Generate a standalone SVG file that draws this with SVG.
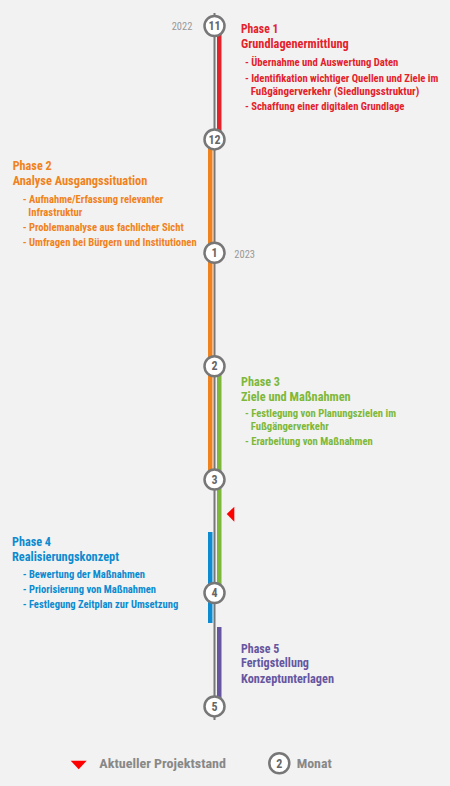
<svg xmlns="http://www.w3.org/2000/svg" width="450" height="786" viewBox="0 0 450 786">
<style>
text{font-family:"Roboto Condensed",Roboto,"Liberation Sans",sans-serif;font-stretch:condensed;font-weight:700}
.h{font-size:12.3px}
.b{font-size:10.3px}
.yr{font-size:10px;font-weight:400;fill:#999}
.num{font-size:12px;fill:#666;text-anchor:middle}
.node circle{fill:#fff;stroke:#777;stroke-width:2.5}
.p1{fill:#e3222c}.p2{fill:#f0821e}.p3{fill:#7db83a}.p4{fill:#0c8bd0}.p5{fill:#6656a0}
.leg{font-size:12.5px;fill:#888}
</style>
<rect width="450" height="786" fill="#f2f2f2"/>
<g id="connectors">
<rect x="213.5" y="13" width="2" height="707" fill="#777"/>
<rect class="p1" x="217" y="26" width="4.5" height="113.4"/>
<rect class="p2" x="208" y="139.4" width="4.5" height="340.2"/>
<rect class="p3" x="217" y="366.2" width="4.5" height="226.8"/>
<rect class="p4" x="208" y="532" width="4.5" height="91"/>
<rect class="p5" x="217" y="627" width="4.5" height="79.4"/>
</g>
<g id="m11" class="node"><circle cx="214.5" cy="26" r="10"/><text class="num" x="214.5" y="30.2">11</text></g>
<g id="m12" class="node"><circle cx="214.5" cy="139.4" r="10"/><text class="num" x="214.5" y="143.6">12</text></g>
<g id="m1" class="node"><circle cx="214.5" cy="252.8" r="10"/><text class="num" x="214.5" y="257">1</text></g>
<g id="m2" class="node"><circle cx="214.5" cy="366.2" r="10"/><text class="num" x="214.5" y="370.4">2</text></g>
<g id="m3" class="node"><circle cx="214.5" cy="479.6" r="10"/><text class="num" x="214.5" y="483.8">3</text></g>
<g id="m4" class="node"><circle cx="214.5" cy="593" r="10"/><text class="num" x="214.5" y="597.2">4</text></g>
<g id="m5" class="node"><circle cx="214.5" cy="706.4" r="10"/><text class="num" x="214.5" y="710.6">5</text></g>
<g id="years">
<text class="yr" x="171.7" y="29.5" textLength="20.6" lengthAdjust="spacingAndGlyphs">2022</text>
<text class="yr" x="234.3" y="257.5" textLength="20.7" lengthAdjust="spacingAndGlyphs">2023</text>
</g>
<g id="current"><polygon points="226.7,514 234.3,506.7 234.3,521.7" fill="#f00"/></g>
<g id="phase1" class="p1">
<text class="h" x="241" y="33.3" textLength="37.3" lengthAdjust="spacingAndGlyphs">Phase 1</text>
<text class="h" x="241" y="48.3" textLength="107.7" lengthAdjust="spacingAndGlyphs">Grundlagenermittlung</text>
<text class="b" x="245" y="66" textLength="153.3" lengthAdjust="spacingAndGlyphs">- Übernahme und Auswertung Daten</text>
<text class="b" x="245" y="81.5" textLength="193.3" lengthAdjust="spacingAndGlyphs">- Identifikation wichtiger Quellen und Ziele im</text>
<text class="b" x="250.7" y="95" textLength="168.6" lengthAdjust="spacingAndGlyphs">Fußgängerverkehr (Siedlungsstruktur)</text>
<text class="b" x="245" y="110" textLength="159.3" lengthAdjust="spacingAndGlyphs">- Schaffung einer digitalen Grundlage</text>
</g>
<g id="phase2" class="p2">
<text class="h" x="12.7" y="170" textLength="39" lengthAdjust="spacingAndGlyphs">Phase 2</text>
<text class="h" x="12.7" y="185" textLength="134.6" lengthAdjust="spacingAndGlyphs">Analyse Ausgangssituation</text>
<text class="b" x="22.7" y="203.3" textLength="140.6" lengthAdjust="spacingAndGlyphs">- Aufnahme/Erfassung relevanter</text>
<text class="b" x="28.3" y="215.5" textLength="54" lengthAdjust="spacingAndGlyphs">Infrastruktur</text>
<text class="b" x="22.7" y="231" textLength="161" lengthAdjust="spacingAndGlyphs">- Problemanalyse aus fachlicher Sicht</text>
<text class="b" x="22.7" y="246" textLength="174" lengthAdjust="spacingAndGlyphs">- Umfragen bei Bürgern und Institutionen</text>
</g>
<g id="phase3" class="p3">
<text class="h" x="241" y="386" textLength="39" lengthAdjust="spacingAndGlyphs">Phase 3</text>
<text class="h" x="241" y="401" textLength="109.7" lengthAdjust="spacingAndGlyphs">Ziele und Maßnahmen</text>
<text class="b" x="245" y="416.7" textLength="151" lengthAdjust="spacingAndGlyphs">- Festlegung von Planungszielen im</text>
<text class="b" x="250.7" y="429.5" textLength="78" lengthAdjust="spacingAndGlyphs">Fußgängerverkehr</text>
<text class="b" x="245" y="445" textLength="127.7" lengthAdjust="spacingAndGlyphs">- Erarbeitung von Maßnahmen</text>
</g>
<g id="phase4" class="p4">
<text class="h" x="12" y="546" textLength="39" lengthAdjust="spacingAndGlyphs">Phase 4</text>
<text class="h" x="12" y="560.7" textLength="107" lengthAdjust="spacingAndGlyphs">Realisierungskonzept</text>
<text class="b" x="22.7" y="577.7" textLength="122.3" lengthAdjust="spacingAndGlyphs">- Bewertung der Maßnahmen</text>
<text class="b" x="22.7" y="592.7" textLength="133.3" lengthAdjust="spacingAndGlyphs">- Priorisierung von Maßnahmen</text>
<text class="b" x="22.7" y="607.7" textLength="155.6" lengthAdjust="spacingAndGlyphs">- Festlegung Zeitplan zur Umsetzung</text>
</g>
<g id="phase5" class="p5">
<text class="h" x="241" y="653.3" textLength="38.3" lengthAdjust="spacingAndGlyphs">Phase 5</text>
<text class="h" x="241" y="667.3" textLength="68" lengthAdjust="spacingAndGlyphs">Fertigstellung</text>
<text class="h" x="241" y="682.7" textLength="93" lengthAdjust="spacingAndGlyphs">Konzeptunterlagen</text>
</g>
<g id="legend">
<polygon points="70.7,760.7 86.7,760.7 78.7,769.3" fill="#f00"/>
<text class="leg" x="99.3" y="767.5" textLength="126.7" lengthAdjust="spacingAndGlyphs">Aktueller Projektstand</text>
<g class="node"><circle cx="279.3" cy="763.3" r="10"/><text class="num" x="279.3" y="767.5">2</text></g>
<text class="leg" x="296.7" y="767.5" textLength="35" lengthAdjust="spacingAndGlyphs">Monat</text>
</g>
</svg>
